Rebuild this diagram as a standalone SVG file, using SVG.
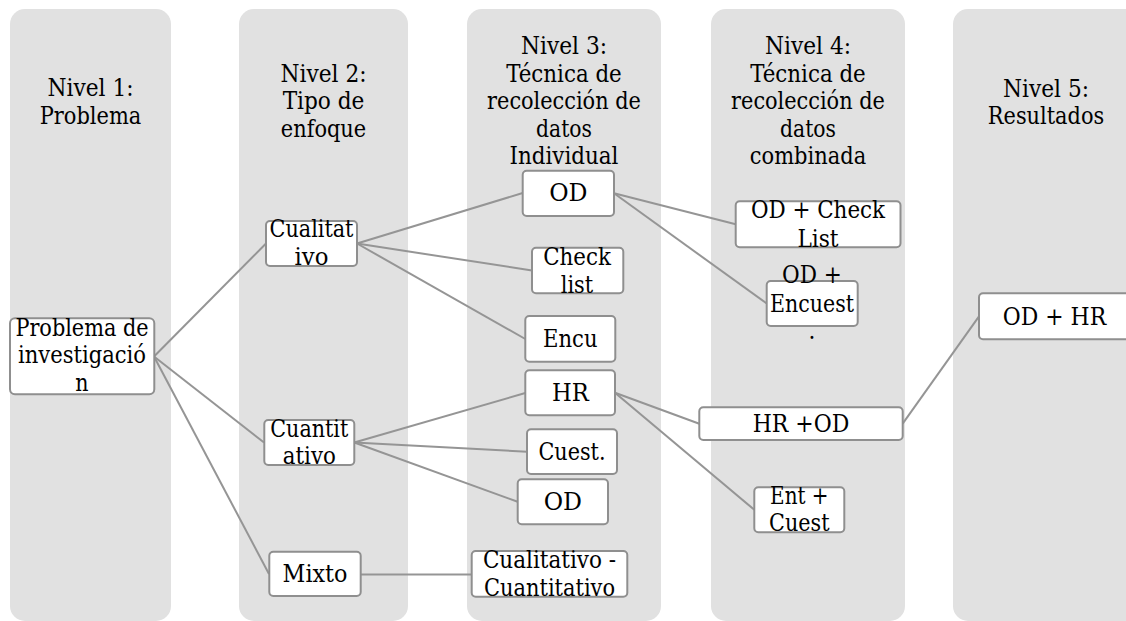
<svg xmlns="http://www.w3.org/2000/svg" width="1126" height="621" viewBox="0 0 1126 621">
<style>
.col{fill:#e1e1e1}
.box{fill:#ffffff;stroke:#8f8f8f;stroke-width:2}
.ln{stroke:#959595;stroke-width:2;fill:none}
.t text{font-family:'DejaVu Serif Condensed','DejaVu Serif','Liberation Serif',serif;font-size:24px;fill:#000000;text-anchor:middle}
</style>
<rect width="1126" height="621" fill="#ffffff"/>
<g id="columns">
<rect class="col" x="10" y="9" width="161" height="612" rx="15"/>
<rect class="col" x="239" y="9" width="169" height="612" rx="15"/>
<rect class="col" x="467" y="9" width="194" height="612" rx="15"/>
<rect class="col" x="711" y="9" width="194" height="612" rx="15"/>
<rect class="col" x="953" y="9" width="190" height="612" rx="15"/>
</g>
<g id="headers" class="t">
<text x="90.5" y="96" textLength="86.1" lengthAdjust="spacingAndGlyphs">Nivel 1:</text>
<text x="90.5" y="124" textLength="101.6" lengthAdjust="spacingAndGlyphs">Problema</text>
<text x="323.5" y="81.7" textLength="86.1" lengthAdjust="spacingAndGlyphs">Nivel 2:</text>
<text x="323.5" y="109.3" textLength="81.7" lengthAdjust="spacingAndGlyphs">Tipo de</text>
<text x="323.5" y="136.7" textLength="85.4" lengthAdjust="spacingAndGlyphs">enfoque</text>
<text x="564" y="54.3" textLength="86.1" lengthAdjust="spacingAndGlyphs">Nivel 3:</text>
<text x="564" y="81.7" textLength="115.5" lengthAdjust="spacingAndGlyphs">Técnica de</text>
<text x="564" y="109.3" textLength="153.8" lengthAdjust="spacingAndGlyphs">recolección de</text>
<text x="564" y="136.7" textLength="55.9" lengthAdjust="spacingAndGlyphs">datos</text>
<text x="564" y="164.3" textLength="108.9" lengthAdjust="spacingAndGlyphs">Individual</text>
<text x="808" y="54.3" textLength="86.1" lengthAdjust="spacingAndGlyphs">Nivel 4:</text>
<text x="808" y="81.7" textLength="115.5" lengthAdjust="spacingAndGlyphs">Técnica de</text>
<text x="808" y="109.3" textLength="153.8" lengthAdjust="spacingAndGlyphs">recolección de</text>
<text x="808" y="136.7" textLength="55.9" lengthAdjust="spacingAndGlyphs">datos</text>
<text x="808" y="164.3" textLength="116.3" lengthAdjust="spacingAndGlyphs">combinada</text>
<text x="1046" y="96.7" textLength="86.1" lengthAdjust="spacingAndGlyphs">Nivel 5:</text>
<text x="1046" y="124" textLength="116.3" lengthAdjust="spacingAndGlyphs">Resultados</text>
</g>
<g id="connectors">
<line class="ln" x1="154" y1="356.5" x2="266" y2="243.5"/>
<line class="ln" x1="154" y1="356.5" x2="264" y2="442.5"/>
<line class="ln" x1="154" y1="356.5" x2="269" y2="574"/>
<line class="ln" x1="357" y1="243.5" x2="522.7" y2="193"/>
<line class="ln" x1="357" y1="243.5" x2="532" y2="270.5"/>
<line class="ln" x1="357" y1="243.5" x2="525.3" y2="339"/>
<line class="ln" x1="354.3" y1="442.5" x2="525.3" y2="393"/>
<line class="ln" x1="354.3" y1="442.5" x2="527" y2="451.7"/>
<line class="ln" x1="354.3" y1="442.5" x2="517.7" y2="501.8"/>
<line class="ln" x1="360.7" y1="574.5" x2="471.7" y2="574.5"/>
<line class="ln" x1="614" y1="193.3" x2="735.7" y2="224.3"/>
<line class="ln" x1="614" y1="193.3" x2="766.7" y2="303.5"/>
<line class="ln" x1="615" y1="392.8" x2="699.3" y2="423.7"/>
<line class="ln" x1="615" y1="392.8" x2="754.3" y2="509.8"/>
<line class="ln" x1="902.7" y1="423.7" x2="979" y2="316.3"/>
</g>
<g id="nodes" class="t">
<g id="n-problema">
<rect class="box" x="10" y="318.3" width="144.3" height="76" rx="5"/>
<text x="82" y="336" textLength="133.2" lengthAdjust="spacingAndGlyphs">Problema de</text>
<text x="82" y="363.3" textLength="128.1" lengthAdjust="spacingAndGlyphs">investigació</text>
<text x="82" y="390.7" textLength="13.3" lengthAdjust="spacingAndGlyphs">n</text>
</g>
<g id="n-cualitativo">
<rect class="box" x="266" y="221" width="91" height="45" rx="4"/>
<text x="311.5" y="236.7" textLength="83.9" lengthAdjust="spacingAndGlyphs">Cualitat</text>
<text x="311.5" y="265" textLength="33.9" lengthAdjust="spacingAndGlyphs">ivo</text>
</g>
<g id="n-cuantitativo">
<rect class="box" x="264.3" y="420" width="90" height="45" rx="4"/>
<text x="309.3" y="436.7" textLength="78" lengthAdjust="spacingAndGlyphs">Cuantit</text>
<text x="309.3" y="464" textLength="53" lengthAdjust="spacingAndGlyphs">ativo</text>
</g>
<g id="n-mixto">
<rect class="box" x="269.3" y="551.7" width="91.4" height="44.3" rx="4"/>
<text x="315" y="581.7" textLength="64.8" lengthAdjust="spacingAndGlyphs">Mixto</text>
</g>
<g id="n-od1">
<rect class="box" x="522.7" y="170.7" width="91.3" height="45.3" rx="4"/>
<text x="568.3" y="201" textLength="38.3" lengthAdjust="spacingAndGlyphs">OD</text>
</g>
<g id="n-checklist">
<rect class="box" x="532" y="247.7" width="91.3" height="45.6" rx="4"/>
<text x="577" y="265" textLength="67.7" lengthAdjust="spacingAndGlyphs">Check</text>
<text x="577" y="292.7" textLength="32.4" lengthAdjust="spacingAndGlyphs">list</text>
</g>
<g id="n-encu">
<rect class="box" x="525.3" y="316" width="90" height="45.7" rx="4"/>
<text x="570.3" y="346.7" textLength="54.5" lengthAdjust="spacingAndGlyphs">Encu</text>
</g>
<g id="n-hr">
<rect class="box" x="525.3" y="370.3" width="89.7" height="45" rx="4"/>
<text x="570.3" y="400.7" textLength="36.8" lengthAdjust="spacingAndGlyphs">HR</text>
</g>
<g id="n-cuest">
<rect class="box" x="527" y="429.3" width="90" height="44.7" rx="4"/>
<text x="572" y="460" textLength="67" lengthAdjust="spacingAndGlyphs">Cuest.</text>
</g>
<g id="n-od2">
<rect class="box" x="517.7" y="479.3" width="90.3" height="45" rx="4"/>
<text x="562.8" y="510" textLength="38.3" lengthAdjust="spacingAndGlyphs">OD</text>
</g>
<g id="n-cualcuant">
<rect class="box" x="471.7" y="551" width="155.6" height="45.7" rx="4"/>
<text x="549.5" y="568.3" textLength="133.2" lengthAdjust="spacingAndGlyphs">Cualitativo -</text>
<text x="549.5" y="596" textLength="131" lengthAdjust="spacingAndGlyphs">Cuantitativo</text>
</g>
<g id="n-odcheck">
<rect class="box" x="735.7" y="201.3" width="164.8" height="46" rx="4"/>
<text x="818" y="218.3" textLength="134.2" lengthAdjust="spacingAndGlyphs">OD + Check</text>
<text x="818" y="246.7" textLength="41.2" lengthAdjust="spacingAndGlyphs">List</text>
</g>
<g id="n-odencuest">
<rect class="box" x="766.7" y="281" width="91" height="45" rx="4"/>
<text x="812" y="283.3" textLength="59.8" lengthAdjust="spacingAndGlyphs">OD +</text>
<text x="812" y="311.7" textLength="83.9" lengthAdjust="spacingAndGlyphs">Encuest</text>
<text x="812" y="339.3">.</text>
</g>
<g id="n-hrod">
<rect class="box" x="699.3" y="407.3" width="203.4" height="32.7" rx="4"/>
<text x="801" y="431.7" textLength="96.6" lengthAdjust="spacingAndGlyphs">HR +OD</text>
</g>
<g id="n-entcuest">
<rect class="box" x="754.3" y="487.3" width="90" height="45" rx="4"/>
<text x="799.3" y="504" textLength="58.4" lengthAdjust="spacingAndGlyphs">Ent +</text>
<text x="799.3" y="530.7" textLength="60.4" lengthAdjust="spacingAndGlyphs">Cuest</text>
</g>
<g id="n-odhr">
<rect class="box" x="979" y="293.3" width="152" height="46" rx="4"/>
<text x="1054.5" y="325" textLength="103.3" lengthAdjust="spacingAndGlyphs">OD + HR</text>
</g>
</g>
</svg>
